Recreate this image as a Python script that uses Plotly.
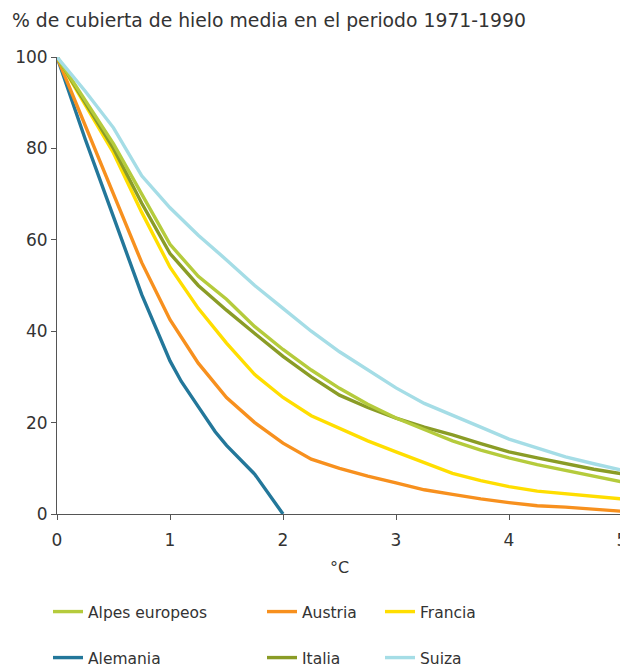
import plotly.graph_objects as go

temps = [0, 0.25, 0.5, 0.75, 1.0, 1.25, 1.5, 1.75, 2.0, 2.25, 2.5, 2.75, 3.0,
         3.25, 3.5, 3.75, 4.0, 4.25, 4.5, 4.75, 5.0]

alpes = [100, 90.5, 81, 70, 59, 52, 47, 41, 36, 31.5, 27.5, 24, 21, 18.5, 16, 14,
         12.3, 10.8, 9.5, 8.3, 7]
austria = [100, 85, 70, 55, 42.5, 33, 25.5, 20, 15.5, 12, 10, 8.3, 6.8, 5.3, 4.3,
           3.3, 2.5, 1.8, 1.5, 1.1, 0.6]
francia = [100, 89.5, 79, 66, 54, 45, 37.4, 30.5, 25.5, 21.5, 18.8, 16, 13.6, 11.3,
           8.9, 7.3, 6, 5, 4.4, 3.8, 3.3]
italia = [100, 90, 80, 68, 57, 50, 44.6, 39.5, 34.5, 30, 26, 23.3, 21, 19, 17.3,
          15.4, 13.6, 12.3, 11, 9.8, 8.8]
suiza = [100, 92.5, 84.5, 74, 67, 61, 55.6, 50, 45, 40, 35.5, 31.5, 27.6, 24.2,
         21.5, 19, 16.4, 14.5, 12.5, 11, 9.6]

temps_alemania = [0, 0.25, 0.5, 0.75, 1.0, 1.1, 1.25, 1.4, 1.5, 1.75, 2.0]
alemania = [100, 82, 65, 48, 33.5, 29, 23.5, 18, 15, 8.7, 0]

x_ticks = [0, 1, 2, 3, 4, 5]
y_ticks = [0, 20, 40, 60, 80, 100]

FONT = "DejaVu Sans"
TXT = "#333333"
W, H = 620, 659

# name, x, y, colour, legend id, legend column left (px), row centre (px)
series = [
    ("Alpes europeos", temps, alpes, "#B5CB3C", "legend", 40, 604),
    ("Austria", temps, austria, "#F7901E", "legend2", 254, 604),
    ("Francia", temps, francia, "#FFDE00", "legend3", 372, 604),
    ("Alemania", temps_alemania, alemania, "#23779A", "legend4", 40, 650),
    ("Italia", temps, italia, "#8A9C26", "legend5", 254, 650),
    ("Suiza", temps, suiza, "#A5DDE6", "legend6", 372, 650),
]

draw_order = ["Alemania", "Austria", "Francia", "Italia", "Alpes europeos", "Suiza"]

fig = go.Figure()
for name in draw_order:
    s = [t for t in series if t[0] == name][0]
    _, xs, ys, col, leg, _, _ = s
    fig.add_trace(go.Scatter(
        x=xs, y=ys, mode="lines", name=name,
        line=dict(color=col, width=3.4),
        legend=leg, hoverinfo="skip",
    ))

axis_common = dict(
    showgrid=False, zeroline=False, showline=True, linecolor="#555555",
    linewidth=1, ticks="outside", ticklen=5, tickcolor="#555555",
    tickfont=dict(family=FONT, size=17, color=TXT),
)

fig.update_layout(
    width=W, height=H,
    margin=dict(l=49, r=6, t=49, b=153, autoexpand=False),
    paper_bgcolor="white", plot_bgcolor="white",
    font=dict(family=FONT, size=16, color=TXT),
    title=dict(text="% de cubierta de hielo media en el periodo 1971-1990",
               x=4 / W, xanchor="left", xref="container",
               y=1 - 12 / H, yanchor="middle", yref="container",
               font=dict(family=FONT, size=18.8, color=TXT)),
    xaxis=dict(range=[0, 5], tickvals=x_ticks, ticktext=[str(v) for v in x_ticks],
               ticklabelstandoff=6,
               title=dict(text="°C", standoff=12, font=dict(family=FONT, size=16, color=TXT)),
               **axis_common),
    yaxis=dict(range=[0, 100], tickvals=y_ticks, ticktext=[str(v) for v in y_ticks],
               **axis_common),
    showlegend=True,
)

for name, _, _, _, leg, left, cy in series:
    fig.update_layout({leg: dict(
        orientation="v", xref="container", yref="container",
        x=left / W, xanchor="left", y=1 - cy / H, yanchor="middle",
        bgcolor="rgba(0,0,0,0)", borderwidth=0,
        font=dict(family=FONT, size=15.5, color=TXT), itemclick=False,
    )})

fig.write_html("out.html")
